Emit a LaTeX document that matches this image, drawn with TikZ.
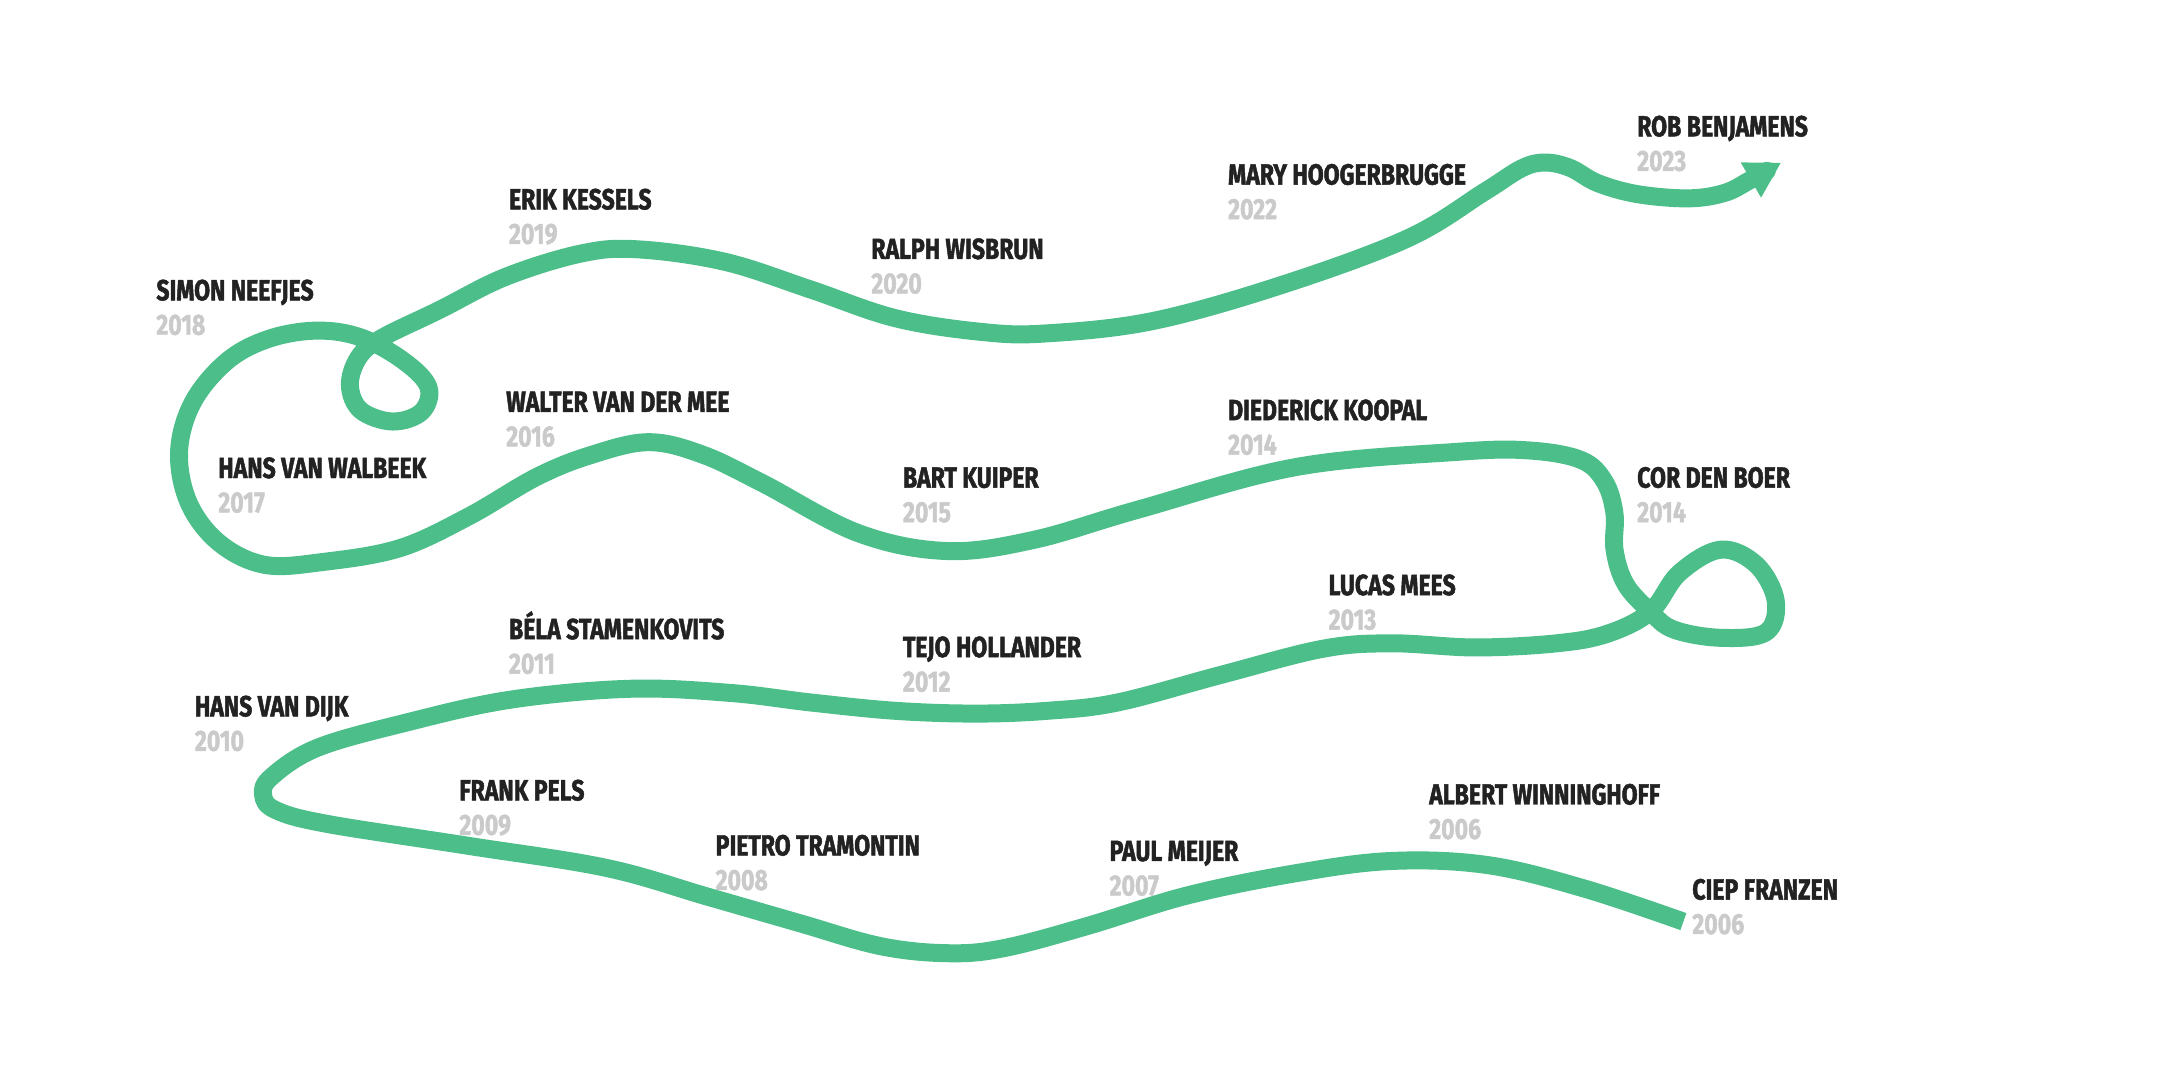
\documentclass[tikz,border=0pt]{standalone}
\usepackage{fontspec}
\setmainfont{Fira Sans}[FakeStretch=0.79,BoldFeatures={FakeBold=1.6}]
\usepackage{tikz}
\usetikzlibrary{arrows.meta}
\definecolor{trail}{HTML}{4BBE89}
\definecolor{ink}{HTML}{222222}
\definecolor{ash}{HTML}{CACACA}
\newcommand{\tlentry}[5]{\node[nm] (#1) at (#2,#3) {#4}; \node[yr] (#1y) at (#2,#3+25) {#5};}
\tikzset{nm/.style={anchor=base west,inner sep=0pt,text=ink,font=\fontsize{8.3}{9}\selectfont\bfseries},
  yr/.style={nm,text=ash},
  trailline/.style={trail,line width=0.18cm,line join=round,-{Triangle[length=0.35cm,width=0.38cm]}}}

\begin{document}
\begin{tikzpicture}[x=0.013776cm,y=-0.013776cm]
\useasboundingbox (0,0) rectangle (1568,784);
\draw[trailline] plot[smooth,tension=0.6] coordinates {(1222,669) (1150,645) (1080,628) (1010,625) (940,634) (862,650) (790,672) (730,688) (690,692) (640,687) (580,670) (514,651) (440,630) (340,614) (237,598) (200,588) (191,577) (197,564) (230,543) (293,525) (370,508) (457,500) (530,503) (589,510) (650,516) (708,518) (760,516) (811,510) (886,490) (960,471) (1010,467) (1071,470) (1130,467) (1167,460) (1198,444) (1219,416) (1249,399) (1275,410) (1289,436) (1282,459) (1249,463) (1215,457) (1198,444) (1180,424) (1172,399) (1172,373) (1165,350) (1148,334) (1110,327) (1058,328) (941,339) (826,370) (750,392) (687,400) (623,387) (554,351) (510,330) (471,321) (430,330) (390,346) (340,375) (290,398) (234,408) (192,410) (159,394) (137,365) (130,328) (140,292) (165,262) (195,246) (230,240) (262,245) (293,262) (311,281) (306,299) (285,306) (262,298) (254,280) (260,260) (276,246) (319,225) (367,201) (422,184) (463,181) (526,190) (588,210) (650,231) (713,241) (760,242) (837,233) (930,207) (1022,173) (1078,139) (1105,122) (1122,118) (1140,122) (1160,133) (1189,141) (1226,144) (1252,140) (1270,131) (1293,118)};
% names and years
\tlentry{rob}{1188}{99}{ROB BENJAMENS}{2023}
\tlentry{mary}{891}{134}{MARY HOOGERBRUGGE}{2022}
\tlentry{erik}{369}{152}{ERIK KESSELS}{2019}
\tlentry{ralph}{632}{188}{RALPH WISBRUN}{2020}
\tlentry{simon}{113}{218}{SIMON NEEFJES}{2018}
\tlentry{walter}{367}{299}{WALTER VAN DER MEE}{2016}
\tlentry{diederick}{891}{305}{DIEDERICK KOOPAL}{2014}
\tlentry{walbeek}{158}{347}{HANS VAN WALBEEK}{2017}
\tlentry{bart}{655}{354}{BART KUIPER}{2015}
\tlentry{cor}{1188}{354}{COR DEN BOER}{2014}
\tlentry{lucas}{964}{432}{LUCAS MEES}{2013}
\tlentry{bela}{369}{464}{BÉLA STAMENKOVITS}{2011}
\tlentry{tejo}{655}{477}{TEJO HOLLANDER}{2012}
\tlentry{dijk}{141}{520}{HANS VAN DIJK}{2010}
\tlentry{frank}{333}{581}{FRANK PELS}{2009}
\tlentry{albert}{1037}{584}{ALBERT WINNINGHOFF}{2006}
\tlentry{pietro}{519}{621}{PIETRO TRAMONTIN}{2008}
\tlentry{paul}{805}{625}{PAUL MEIJER}{2007}
\tlentry{ciep}{1228}{653}{CIEP FRANZEN}{2006}
\end{tikzpicture}
\end{document}
